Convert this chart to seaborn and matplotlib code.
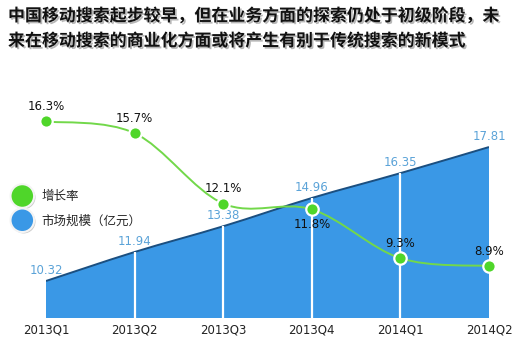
import numpy as np
import pandas as pd
import seaborn as sns
import matplotlib
matplotlib.use("Agg")
import matplotlib.pyplot as plt
from matplotlib.path import Path
from matplotlib.patches import PathPatch
from matplotlib.lines import Line2D
import matplotlib.patheffects as pe

quarters = ["2013Q1", "2013Q2", "2013Q3", "2013Q4", "2014Q1", "2014Q2"]
market_size = [10.32, 11.94, 13.38, 14.96, 16.35, 17.81]   # 亿元
growth_rate = [16.3, 15.7, 12.1, 11.8, 9.3, 8.9]           # %

title_lines = ["中国移动搜索起步较早，但在业务方面的探索仍处于初级阶段，未",
               "来在移动搜索的商业化方面或将产生有别于传统搜索的新模式"]

sns.set_theme(style="white")
plt.rcParams["font.family"] = ["Noto Sans CJK SC", "DejaVu Sans"]

AREA = "#3a98e6"
EDGE = "#1b4f80"
GREEN_LINE = "#72d84a"
GREEN_DOT = "#4fd62a"
BLUE_TXT = "#5ba3d8"

df = pd.DataFrame({"quarter": quarters, "x": np.arange(len(quarters)),
                   "size": market_size, "growth": growth_rate})


def smooth_path(xs, ys, tension=1 / 6):
    """Catmull-Rom style cubic Bezier through the given points."""
    xs = np.asarray(xs, float)
    ys = np.asarray(ys, float)
    n = len(xs)
    verts = [(xs[0], ys[0])]
    codes = [Path.MOVETO]
    for i in range(n - 1):
        p0 = np.array([xs[max(i - 1, 0)], ys[max(i - 1, 0)]])
        p1 = np.array([xs[i], ys[i]])
        p2 = np.array([xs[i + 1], ys[i + 1]])
        p3 = np.array([xs[min(i + 2, n - 1)], ys[min(i + 2, n - 1)]])
        c1 = p1 + (p2 - p0) * tension
        c2 = p2 - (p3 - p1) * tension
        verts += [tuple(c1), tuple(c2), tuple(p2)]
        codes += [Path.CURVE4] * 3
    return verts, codes


fig = plt.figure(figsize=(5.23, 3.41), dpi=100)
ax = fig.add_axes([46 / 523, 23 / 341, 443 / 523, 218 / 341])
ax2 = ax.twinx()

ax.set_xlim(0, len(quarters) - 1)
ax.set_ylim(8.25, 20.44)
ax2.set_ylim(6.24, 17.40)

# market size area with smooth top edge
verts, codes = smooth_path(df["x"], df["size"])
base = ax.get_ylim()[0]
area_verts = verts + [(df["x"].iloc[-1], base), (df["x"].iloc[0], base), verts[0]]
area_codes = codes + [Path.LINETO, Path.LINETO, Path.CLOSEPOLY]
ax.add_patch(PathPatch(Path(area_verts, area_codes), facecolor=AREA,
                       edgecolor="none", zorder=1))
ax.add_patch(PathPatch(Path(verts, codes), facecolor="none", edgecolor=EDGE,
                       lw=1.4, zorder=2))
for xi, yi in zip(df["x"].iloc[1:-1], df["size"].iloc[1:-1]):
    ax.vlines(xi, base, yi, color="white", lw=1.6, zorder=3)
for xi, yi, v in zip(df["x"], df["size"], market_size):
    ax.annotate(f"{v:.2f}", (xi, yi), xytext=(0, 3), textcoords="offset points",
                ha="center", va="bottom", color=BLUE_TXT, fontsize=8.5,
                family="DejaVu Sans", annotation_clip=False)

# growth rate line and markers
gverts, gcodes = smooth_path(df["x"], df["growth"])
ax2.add_patch(PathPatch(Path(gverts, gcodes), facecolor="none",
                        edgecolor=GREEN_LINE, lw=1.4, zorder=4))
sns.scatterplot(data=df, x="x", y="growth", ax=ax2, s=80, color=GREEN_DOT,
                edgecolor="white", linewidth=1.6, zorder=5, clip_on=False,
                legend=False)
for i, (xi, yi, v) in enumerate(zip(df["x"], df["growth"], growth_rate)):
    below = quarters[i] == "2013Q4"
    ax2.annotate(f"{v:.1f}%", (xi, yi), xytext=(0, -6 if below else 6),
                 textcoords="offset points", ha="center",
                 va="top" if below else "bottom", color="#111111",
                 fontsize=8.5, family="DejaVu Sans", annotation_clip=False)

for a in (ax, ax2):
    for s in a.spines.values():
        s.set_visible(False)
    a.set_yticks([])
    a.set_ylabel("")
ax.set_xticks(df["x"])
ax.set_xticklabels(quarters, fontsize=8.5, color="#222222", family="DejaVu Sans")
ax.tick_params(axis="x", length=0, pad=4)
ax2.set_xlabel("")
ax.set_xlabel("")

# legend
shadow = [pe.withSimplePatchShadow(offset=(1, -1), shadow_rgbFace="#999999", alpha=0.5)]
handles = [
    Line2D([], [], ls="none", marker="o", ms=17, mfc=GREEN_DOT, mec="#f4f4f4",
           mew=1.5, label="增长率", path_effects=shadow),
    Line2D([], [], ls="none", marker="o", ms=17, mfc=AREA, mec="#f4f4f4",
           mew=1.5, label="市场规模（亿元）", path_effects=shadow),
]
fig.legend(handles=handles, loc="center left",
           bbox_to_anchor=(0.008, (341 - 209) / 341),
           frameon=False, fontsize=9, handletextpad=0.7, labelspacing=0.9,
           borderaxespad=0.2, handlelength=1.7)

# title
for k, line in enumerate(title_lines):
    fig.text(8 / 523, 1 - (16 + 25 * k) / 341, line, fontsize=12.2,
             fontweight="bold", color="#111111", va="center", ha="left",
             path_effects=[pe.withSimplePatchShadow(offset=(1.2, -1.2),
                                                    shadow_rgbFace="#888888",
                                                    alpha=0.6)])

fig.savefig("out.png", dpi=100)
